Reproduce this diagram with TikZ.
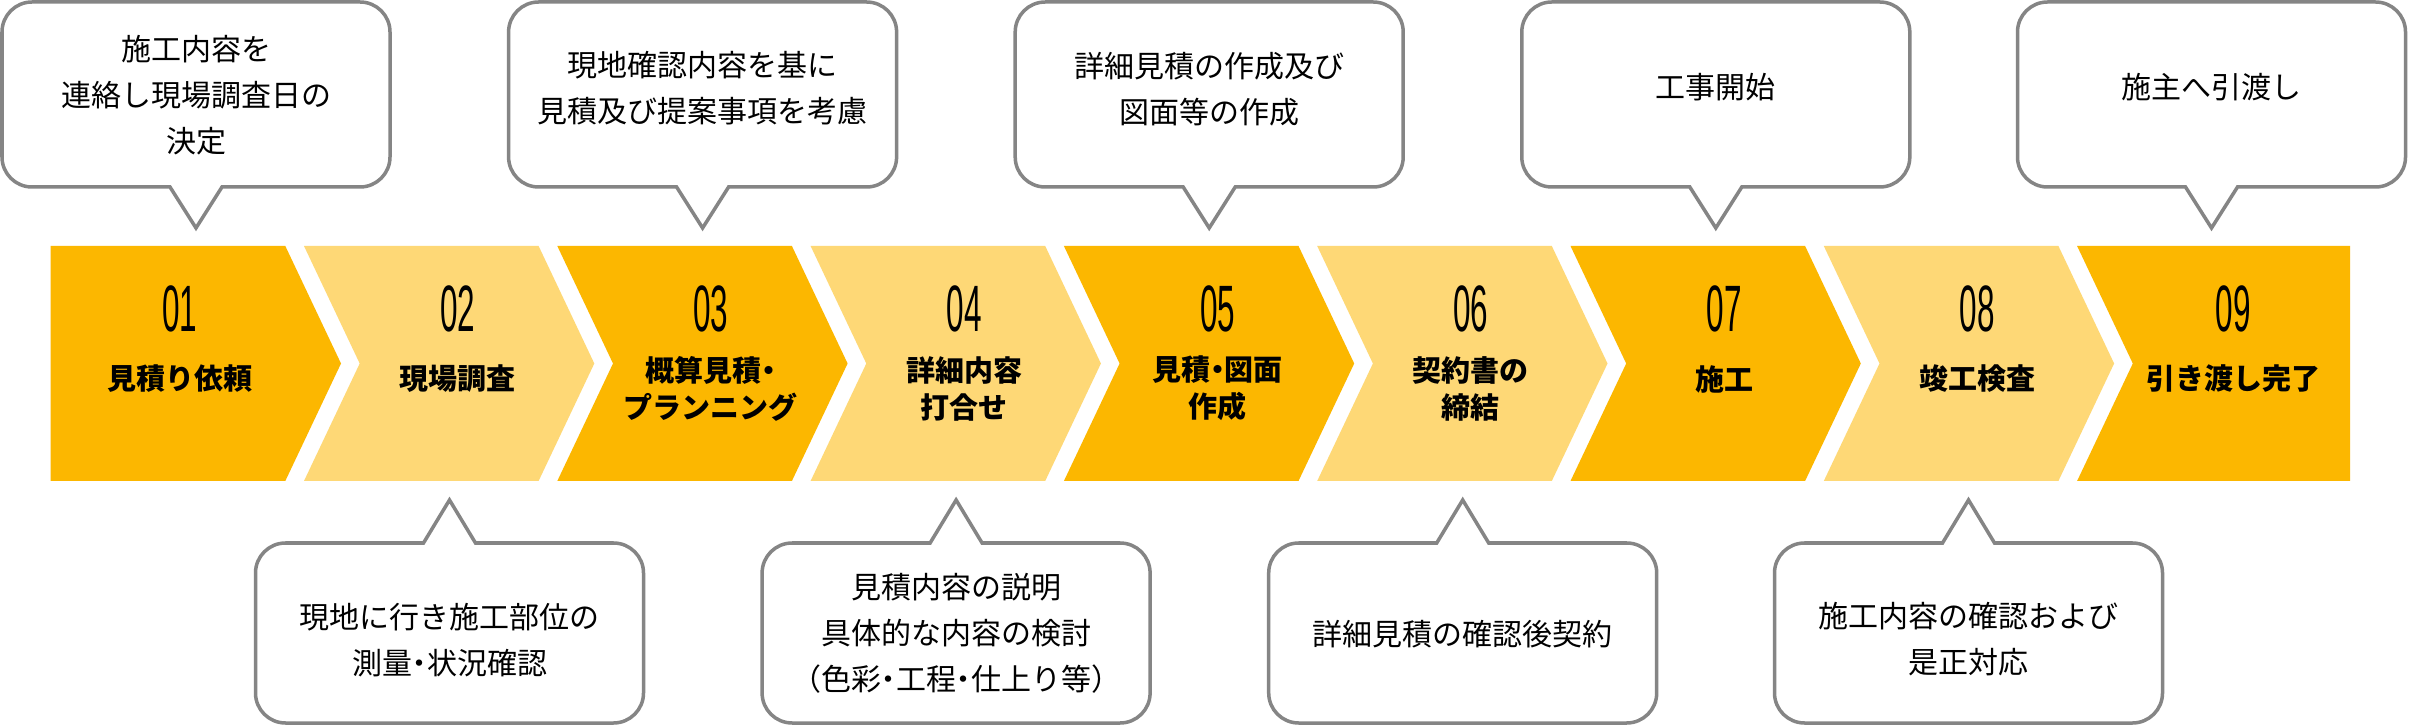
\documentclass[tikz,border=0pt]{standalone}
\usepackage{fontspec}
\setmainfont{Liberation Sans}
\newfontfamily\jpfont{Noto Sans CJK JP}
\definecolor{cdark}{RGB}{252,183,0}
\definecolor{clight}{RGB}{254,216,118}
\definecolor{cgray}{RGB}{133,133,133}
\newcommand\hdot{{\addfontfeature{RawFeature=+palt}・}}
\newcommand\stepnum[1]{\scalebox{0.48}[1]{\fontsize{65.6}{66}\selectfont #1}}
\newcommand\topbub[1]{%
  \pgfmathsetmacro\qbL{#1-194}\pgfmathsetmacro\qbR{#1+194}%
  \pgfmathsetmacro\qbLr{#1-164}\pgfmathsetmacro\qbRr{#1+164}%
  \pgfmathsetmacro\qpL{#1-26}\pgfmathsetmacro\qpR{#1+26}%
  \draw[bubble] (#1,498) -- (\qpR,539) -- (\qbRr,539) arc[start angle=-90,end angle=0,radius=30pt] -- (\qbR,694) arc[start angle=0,end angle=90,radius=30pt] -- (\qbLr,724) arc[start angle=90,end angle=180,radius=30pt] -- (\qbL,569) arc[start angle=180,end angle=270,radius=30pt] -- (\qpL,539) -- cycle;}
\newcommand\botbub[1]{%
  \pgfmathsetmacro\qbL{#1-194}\pgfmathsetmacro\qbR{#1+194}%
  \pgfmathsetmacro\qbLr{#1-164}\pgfmathsetmacro\qbRr{#1+164}%
  \pgfmathsetmacro\qpL{#1-26}\pgfmathsetmacro\qpR{#1+26}%
  \draw[bubble] (#1,226) -- (\qpR,183) -- (\qbRr,183) arc[start angle=90,end angle=0,radius=30pt] -- (\qbR,33) arc[start angle=0,end angle=-90,radius=30pt] -- (\qbLr,3) arc[start angle=270,end angle=180,radius=30pt] -- (\qbL,153) arc[start angle=180,end angle=90,radius=30pt] -- (\qpL,183) -- cycle;}
\begin{document}
\begin{tikzpicture}[x=1pt,y=1pt,
  bubble/.style={draw=cgray, line width=3.5pt, fill=white, line join=miter},
  num/.style={inner sep=0pt, text=black},
  lab/.style={font=\jpfont\bfseries\fontsize{29}{37}\selectfont, align=center, inner sep=0pt, text=black},
  note/.style={font=\jpfont\fontsize{30}{46}\selectfont, align=center, inner sep=0pt, text=black}]
\fill[white] (0,0) rectangle (2409,726);
\useasboundingbox (0,0) rectangle (2409,726);
% chevrons
\fill[cdark] (50.7,480) -- (285.3,480) -- (341,362.5) -- (285.3,245) -- (50.7,245) -- cycle;
\foreach \n/\col in {2/clight,3/cdark,4/clight,5/cdark,6/clight,7/cdark,8/clight}{
  \pgfmathsetmacro\ql{50.7+(\n-1)*253.3}
  \fill[\col] (\ql,480) -- ++(234.6,0) -- ++(55.7,-117.5) -- ++(-55.7,-117.5) -- ++(-234.6,0) -- ++(55.7,117.5) -- cycle;
}
\fill[cdark] (2077.1,480) -- (2350,480) -- (2350,245) -- (2077.1,245) -- (2132.8,362.5) -- cycle;
% numbers
\node[num] (n1) at (180,417.5) {\stepnum{01}};
\node[num] (n2) at (457.6,417.5) {\stepnum{02}};
\node[num] (n3) at (710.9,417.5) {\stepnum{03}};
\node[num] (n4) at (964.2,417.5) {\stepnum{04}};
\node[num] (n5) at (1217.5,417.5) {\stepnum{05}};
\node[num] (n6) at (1470.8,417.5) {\stepnum{06}};
\node[num] (n7) at (1724.1,417.5) {\stepnum{07}};
\node[num] (n8) at (1977.4,417.5) {\stepnum{08}};
\node[num] (n9) at (2233,417.5) {\stepnum{09}};
% labels
\node[lab] (l1) at (180,347) {見積り依頼};
\node[lab] (l2) at (457.6,347) {現場調査};
\node[lab] (l3) at (710.9,337.5) {概算見積\hdot\\プランニング};
\node[lab] (l4) at (964.2,337.5) {詳細内容\\打合せ};
\node[lab] (l5) at (1217.5,337.5) {見積\hdot 図面\\作成};
\node[lab] (l6) at (1470.8,337.5) {契約書の\\締結};
\node[lab] (l7) at (1724.1,347) {施工};
\node[lab] (l8) at (1977.4,347) {竣工検査};
\node[lab] (l9) at (2233,347) {引き渡し完了};
% bubbles
\topbub{196}
\topbub{702.6}
\topbub{1209.2}
\topbub{1715.8}
\topbub{2211.5}
\botbub{449.5}
\botbub{956.1}
\botbub{1462.7}
\botbub{1968.5}
\node[note] (t1) at (196,631.3) {施工内容を\\連絡し現場調査日の\\決定};
\node[note] (t3) at (702.6,637.8) {現地確認内容を基に\\見積及び提案事項を考慮};
\node[note] (t5) at (1209.2,636.5) {詳細見積の作成及び\\図面等の作成};
\node[note] (t7) at (1715.8,638.5) {工事開始};
\node[note] (t9) at (2211.5,638.5) {施主へ引渡し};
\node[note] (t2) at (449.5,86) {現地に行き施工部位の\\測量\hdot 状況確認};
\node[note] (t4) at (956.1,92.3) {見積内容の説明\\具体的な内容の検討\\（色彩\hdot 工程\hdot 仕上り等）};
\node[note] (t6) at (1462.7,92) {詳細見積の確認後契約};
\node[note] (t8) at (1968.5,87) {施工内容の確認および\\是正対応};
\end{tikzpicture}
\end{document}
